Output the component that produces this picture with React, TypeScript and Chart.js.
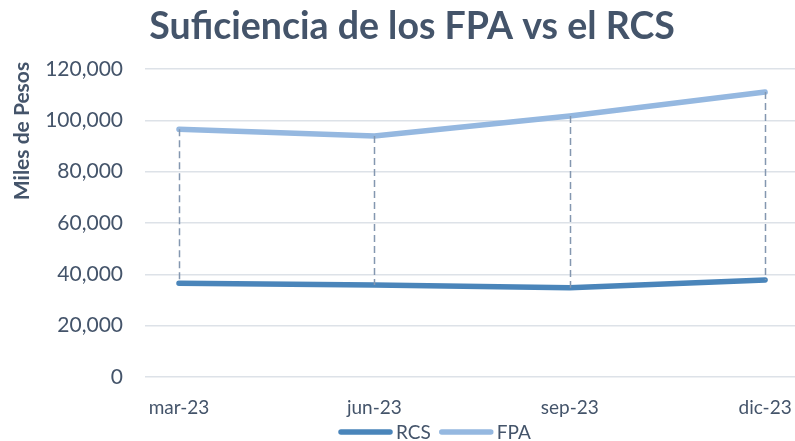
import React, { useEffect, useRef } from "react";
import { Chart, registerables } from "chart.js";

Chart.register(...registerables);

const categories = ["mar-23", "jun-23", "sep-23", "dic-23"];
const rcsValues = [36500, 35800, 34800, 37800];
const fpaValues = [96500, 93900, 101700, 111000];
const yTicks = [0, 20000, 40000, 60000, 80000, 100000, 120000];

const TITLE = "Suficiencia de los FPA vs el RCS";
const Y_TITLE = "Miles de Pesos";
const TEXT = "#44546A";
const FONT = "Lato, 'Open Sans', sans-serif";

const dropLines = {
  id: "dropLines",
  afterDatasetsDraw(chart: any) {
    const a = chart.getDatasetMeta(0).data;
    const b = chart.getDatasetMeta(1).data;
    const ctx = chart.ctx;
    ctx.save();
    ctx.strokeStyle = "#8497B0";
    ctx.lineWidth = 1.5;
    ctx.setLineDash([7, 4]);
    for (let i = 0; i < a.length; i++) {
      ctx.beginPath();
      ctx.moveTo(Math.round(a[i].x) + 0.5, b[i].y);
      ctx.lineTo(Math.round(a[i].x) + 0.5, a[i].y);
      ctx.stroke();
    }
    ctx.restore();
  },
};

const texts = {
  id: "texts",
  afterDraw(chart: any) {
    const ctx = chart.ctx;
    ctx.save();
    ctx.fillStyle = TEXT;
    ctx.font = `bold 37.5px ${FONT}`;
    ctx.textAlign = "center";
    ctx.textBaseline = "alphabetic";
    ctx.fillText(TITLE, 412, 39);
    ctx.translate(22, 131);
    ctx.rotate(-Math.PI / 2);
    ctx.font = `bold 21px ${FONT}`;
    ctx.textBaseline = "middle";
    ctx.fillText(Y_TITLE, 0, 0);
    ctx.restore();
  },
};

const lineLegend = {
  id: "lineLegend",
  afterDraw(chart: any) {
    const ctx = chart.ctx;
    const y = 432;
    let x = 338;
    ctx.save();
    ctx.font = `19px ${FONT}`;
    ctx.textBaseline = "middle";
    ctx.textAlign = "left";
    chart.data.datasets.forEach((ds: any) => {
      ctx.strokeStyle = ds.borderColor;
      ctx.lineWidth = 5.5;
      ctx.lineCap = "round";
      ctx.beginPath();
      ctx.moveTo(x + 3, y);
      ctx.lineTo(x + 52, y);
      ctx.stroke();
      ctx.fillStyle = TEXT;
      ctx.fillText(ds.label, x + 58, y + 1);
      x += 58 + ctx.measureText(ds.label).width + 8;
    });
    ctx.restore();
  },
};

export default function App() {
  const ref = useRef<HTMLCanvasElement>(null);
  useEffect(() => {
    document.body.style.margin = "0";
    const chart = new Chart(ref.current!, {
      type: "line",
      data: {
        datasets: [
          {
            label: "RCS",
            data: rcsValues.map((v, i) => ({ x: i, y: v })),
            borderColor: "#4A85BA",
            backgroundColor: "#4A85BA",
            borderWidth: 5.5,
            pointRadius: 0,
            borderCapStyle: "round",
            tension: 0,
          },
          {
            label: "FPA",
            data: fpaValues.map((v, i) => ({ x: i, y: v })),
            borderColor: "#95B8E0",
            backgroundColor: "#95B8E0",
            borderWidth: 5.5,
            pointRadius: 0,
            borderCapStyle: "round",
            tension: 0,
          },
        ],
      },
      options: {
        animation: false,
        responsive: false,
        layout: { padding: { left: 0, right: 0, top: 69, bottom: 0 } },
        plugins: {
          title: { display: false },
          legend: { display: false },
          tooltip: { enabled: false },
        },
        scales: {
          x: {
            type: "linear",
            min: -0.174,
            max: 3.153,
            afterBuildTicks: (s: any) => {
              s.ticks = categories.map((_, i) => ({ value: i }));
            },
            afterFit: (s: any) => {
              s.height = 64;
              s.paddingLeft = 0;
              s.paddingRight = 0;
            },
            ticks: {
              color: TEXT,
              font: { family: FONT, size: 19 },
              padding: 19,
              callback: (v: any) => categories[v as number],
              maxRotation: 0,
              autoSkip: false,
            },
            grid: { display: false, drawTicks: false },
            border: { display: false },
          },
          y: {
            min: 0,
            max: 120000,
            afterBuildTicks: (s: any) => {
              s.ticks = yTicks.map((v) => ({ value: v }));
            },
            afterFit: (s: any) => {
              s.width = 145;
              s.paddingTop = 0;
              s.paddingBottom = 0;
            },
            ticks: {
              color: TEXT,
              font: { family: FONT, size: 21 },
              padding: 22,
              callback: (v: any) => Number(v).toLocaleString("en-US"),
            },
            grid: { color: "#DDE2E8", lineWidth: 1.5, drawTicks: false },
            border: { display: false },
          },
        },
      },
      plugins: [dropLines, texts, lineLegend],
    });
    return () => chart.destroy();
  }, []);
  return (
    <div style={{ width: 795, height: 441, position: "relative" }}>
      <canvas ref={ref} width={795} height={441} />
    </div>
  );
}
